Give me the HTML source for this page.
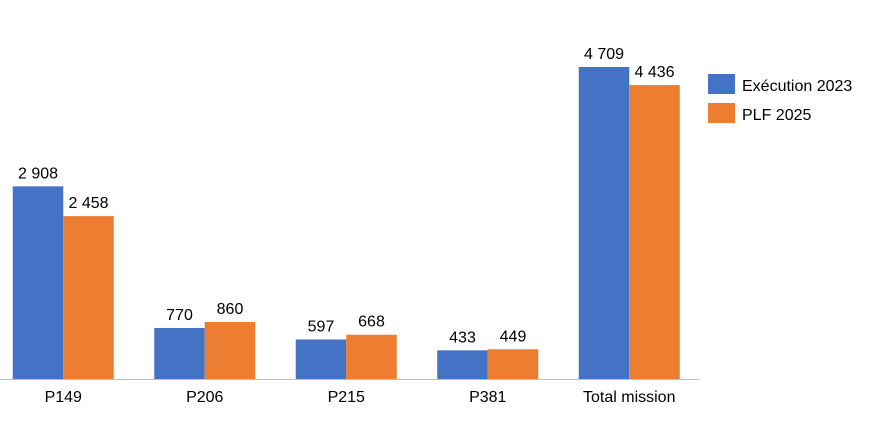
<!DOCTYPE html>
<html><head><meta charset="utf-8"><style>
body{margin:0;background:#fff;font-family:"Liberation Sans",Arial,sans-serif;}
svg text{font-family:"Liberation Sans",Arial,sans-serif;font-size:16px;fill:#000;}
</style></head><body>
<svg id="chart" width="875" height="423" xmlns="http://www.w3.org/2000/svg">
<g id="bars"></g>
<line x1="0" x2="700" y1="379.5" y2="379.5" stroke="#bfbfbf" stroke-width="1"/>
<g>
<g><rect x="708" y="74" width="27" height="20" fill="#4472c4"/><text x="742" y="91">Exécution 2023</text></g>
<g><rect x="708" y="103" width="27" height="20" fill="#ed7d31"/><text x="742" y="120">PLF 2025</text></g>
</g>
</svg>
<script>
const categories=["P149","P206","P215","P381","Total mission"];
const exec2023=[2908,770,597,433,4709];
const plf2025=[2458,860,668,449,4436];
const valueLabels1=["2 908","770","597","433","4 709"];
const valueLabels2=["2 458","860","668","449","4 436"];
const baseY=379, scale=312/4709, left=-7.5, catW=141.5, barW=50.5;
const y=v=>baseY-v*scale;
const xc=i=>left+catW*(i+0.5);
const g=document.getElementById('bars');
const NS="http://www.w3.org/2000/svg";
function mk(t,a){const e=document.createElementNS(NS,t);for(const k in a)e.setAttribute(k,a[k]);return e;}
categories.forEach((c,i)=>{
  [[exec2023,valueLabels1,"#4472c4",-barW,"execution-2023"],[plf2025,valueLabels2,"#ed7d31",0,"plf-2025"]].forEach(([arr,lab,col,off,nm])=>{
    const r=mk('rect',{x:xc(i)+off,y:y(arr[i]),width:barW,height:arr[i]*scale,fill:col});
    
    
    g.appendChild(r);
    const t=mk('text',{x:xc(i)+off+barW/2,y:y(arr[i])-8,'text-anchor':'middle'});
    
    
    t.textContent=lab[i];g.appendChild(t);
  });
  const t=mk('text',{x:xc(i),y:402,'text-anchor':'middle'});
  
  
  t.textContent=c;g.appendChild(t);
});
</script>
</body></html>
